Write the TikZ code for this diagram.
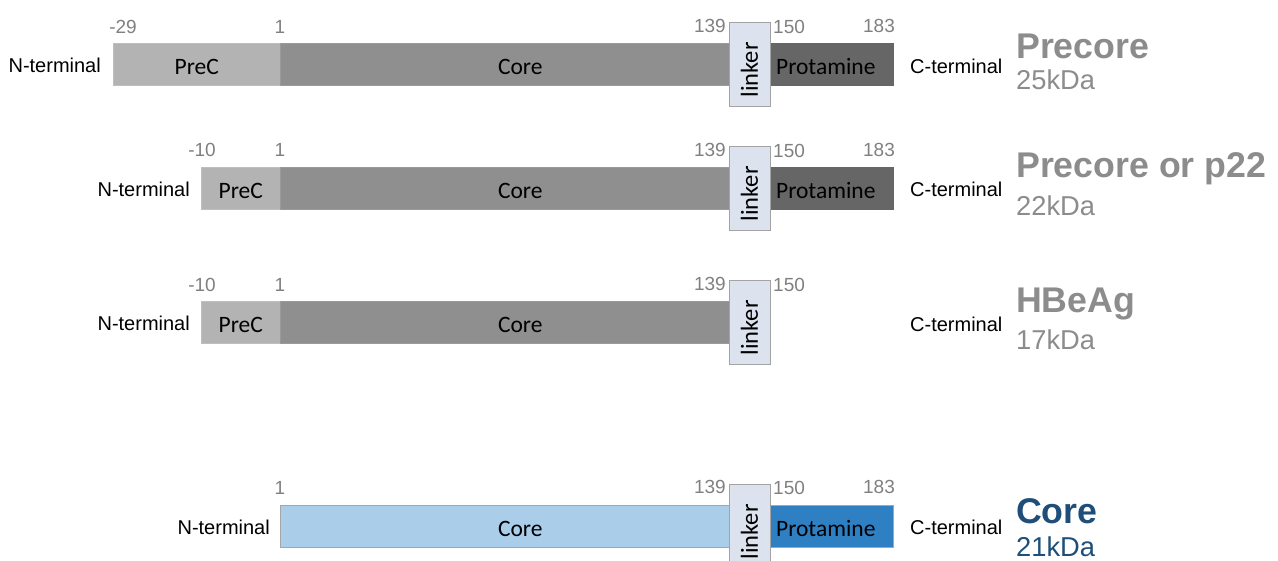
\documentclass[tikz,border=0pt]{standalone}
\usepackage{fontspec}
\setmainfont{Liberation Sans}
\newfontfamily\calibri{Carlito}
\usetikzlibrary{positioning}
\definecolor{precgray}{HTML}{B3B3B3}
\definecolor{coregray}{HTML}{8F8F8F}
\definecolor{protgray}{HTML}{666666}
\definecolor{linkfill}{HTML}{DCE3EE}
\definecolor{linkdraw}{HTML}{A3A3A3}
\definecolor{numgray}{HTML}{808080}
\definecolor{titlegray}{HTML}{8C8C8C}
\definecolor{lightblue}{HTML}{AACDEA}
\definecolor{protblue}{HTML}{2F80C2}
\definecolor{titleblue}{HTML}{1F4E79}

\begin{document}
\begin{tikzpicture}[x=1pt,y=-1pt,
  seg/.style={rectangle,anchor=west,inner sep=0pt,minimum height=42pt,line width=.6pt,
    text height=21pt,text depth=0pt,font=\calibri\fontsize{23.5}{23.5}\selectfont},
  linkbox/.style={rectangle,rotate=90,inner sep=0pt,minimum width=84pt,minimum height=41pt,
    fill=linkfill,draw=linkdraw,line width=.8pt,font=\calibri\fontsize{24.5}{24.5}\selectfont},
  num/.style={inner sep=0pt,text=numgray,font=\fontsize{19}{19}\selectfont},
  term/.style={inner sep=0pt,font=\fontsize{20}{20}\selectfont},
  protname/.style={inner sep=0pt,anchor=west,font=\bfseries\fontsize{35.7}{35.7}\selectfont},
  protmass/.style={inner sep=0pt,anchor=west,font=\fontsize{27.3}{27.3}\selectfont}]
\useasboundingbox (0,0) rectangle (1278,561);

% Precore, 25kDa
\node[seg,fill=precgray,draw=precgray!85!white,minimum width=167pt] (prec1) at (113,64) {PreC};
\node[seg,fill=coregray,draw=coregray!90!white,minimum width=480pt] (core1) at (280,64) {Core};
\node[seg,fill=protgray,draw=protgray,minimum width=123pt] (prot1) at (770,64) {\hspace*{-12pt}Protamine};
\node[linkbox] (link1) at (749.5,64) {\hspace*{-12pt}linker};
\node[term,anchor=east] (nterm1) at (101,65) {N-terminal};
\node[term,anchor=west] (cterm1) at (910,66) {C-terminal};
\node[num] at (123,27) {-29};
\node[num] at (280,27) {1};
\node[num,anchor=east] at (726,26) {139};
\node[num,anchor=west] at (773,27) {150};
\node[num] at (879,26) {183};
\node[protname,text=titlegray] (name1) at (1016,46) {Precore};
\node[protmass,text=titlegray] (mass1) at (1016,80) {25kDa};

% Precore or p22, 22kDa
\node[seg,fill=precgray,draw=precgray!85!white,minimum width=79pt] (prec2) at (201,188) {PreC};
\node[seg,fill=coregray,draw=coregray!90!white,minimum width=480pt] (core2) at (280,188) {Core};
\node[seg,fill=protgray,draw=protgray,minimum width=123pt] (prot2) at (770,188) {\hspace*{-12pt}Protamine};
\node[linkbox] (link2) at (749.5,188) {\hspace*{-12pt}linker};
\node[term,anchor=east] (nterm2) at (190,189) {N-terminal};
\node[term,anchor=west] (cterm2) at (910,189) {C-terminal};
\node[num] at (202,150) {-10};
\node[num] at (280,150) {1};
\node[num,anchor=east] at (726,150) {139};
\node[num,anchor=west] at (773,151) {150};
\node[num] at (879,150) {183};
\node[protname,text=titlegray] (name2) at (1016,169) {Precore or p22};
\node[protmass,text=titlegray] (mass2) at (1016,206) {22kDa};

% HBeAg, 17kDa
\node[seg,fill=precgray,draw=precgray!85!white,minimum width=79pt] (prec3) at (201,322) {PreC};
\node[seg,fill=coregray,draw=coregray!90!white,minimum width=480pt] (core3) at (280,322) {Core};
\node[linkbox] (link3) at (749.5,322) {\hspace*{-12pt}linker};
\node[term,anchor=east] (nterm3) at (190,323) {N-terminal};
\node[term,anchor=west] (cterm3) at (910,324) {C-terminal};
\node[num] at (202,285) {-10};
\node[num] at (280,285) {1};
\node[num,anchor=east] at (726,284) {139};
\node[num,anchor=west] at (773,285) {150};
\node[protname,text=titlegray] (name3) at (1016,304) {HBeAg};
\node[protmass,text=titlegray] (mass3) at (1016,340) {17kDa};

% Core, 21kDa
\node[seg,fill=lightblue,draw=gray!70,minimum width=480pt] (core4) at (280,526) {Core};
\node[seg,fill=protblue,draw=gray!70,minimum width=123pt] (prot4) at (770,526) {\hspace*{-12pt}Protamine};
\node[linkbox] (link4) at (749.5,526) {\hspace*{-12pt}linker};
\node[term,anchor=east] (nterm4) at (270,527) {N-terminal};
\node[term,anchor=west] (cterm4) at (910,527) {C-terminal};
\node[num] at (280,488) {1};
\node[num,anchor=east] at (726,487) {139};
\node[num,anchor=west] at (773,488) {150};
\node[num] at (879,487) {183};
\node[protname,text=titleblue] (name4) at (1016,511) {Core};
\node[protmass,text=titleblue] (mass4) at (1016,547) {21kDa};
\end{tikzpicture}
\end{document}
